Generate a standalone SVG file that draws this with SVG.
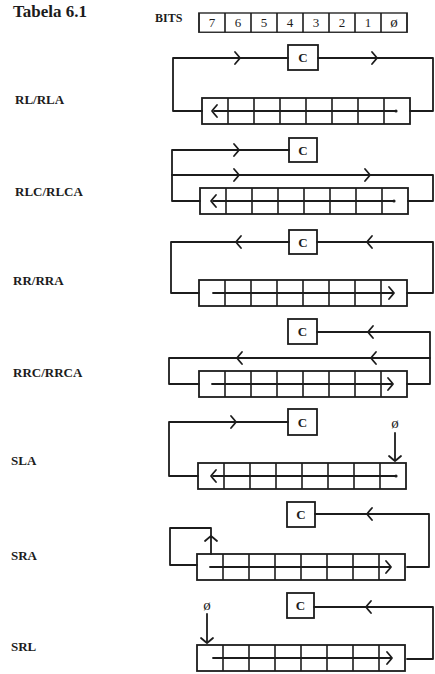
<svg xmlns="http://www.w3.org/2000/svg" xmlns:xlink="http://www.w3.org/1999/xlink" width="435" height="674" viewBox="0 0 435 674">
<style>
.ln{fill:none;stroke:#1c1c1c;stroke-width:1.8;stroke-linejoin:round;stroke-linecap:round}
.bx{fill:none;stroke:#1c1c1c;stroke-width:1.8}
.cell{stroke:#1c1c1c;stroke-width:1.6}
.t{font-family:"Liberation Serif","Times New Roman",serif;fill:#1c1c1c}
.lbl{font-size:13px;font-weight:bold}
.c{font-size:13px;font-weight:bold;text-anchor:middle}
.d{font-size:13px;text-anchor:middle}
.z{font-size:15px;text-anchor:middle}
.dot{fill:#1c1c1c}
</style>
<defs>
<path id="chev" class="ln" d="M-4,-6 Q-0.5,-2 1,0 Q-0.5,2 -4,6"/>
<g id="cells">
<line class="cell" x1="26" y1="0" x2="26" y2="26"/>
<line class="cell" x1="52" y1="0" x2="52" y2="26"/>
<line class="cell" x1="78" y1="0" x2="78" y2="26"/>
<line class="cell" x1="104" y1="0" x2="104" y2="26"/>
<line class="cell" x1="130" y1="0" x2="130" y2="26"/>
<line class="cell" x1="156" y1="0" x2="156" y2="26"/>
<line class="cell" x1="182" y1="0" x2="182" y2="26"/>
<rect class="bx" x="0" y="0" width="208" height="26"/>
</g>
</defs>
<rect width="435" height="674" fill="#fff"/>

<g id="header">
<text class="t" x="13" y="17" font-size="17" font-weight="bold">Tabela 6.1</text>
<text class="t" x="155" y="22" font-size="12" font-weight="bold">BITS</text>
<g transform="translate(199,13) scale(1,0.74)"><use xlink:href="#cells"/></g>
<text class="t d" x="212" y="27">7</text>
<text class="t d" x="238" y="27">6</text>
<text class="t d" x="264" y="27">5</text>
<text class="t d" x="290" y="27">4</text>
<text class="t d" x="316" y="27">3</text>
<text class="t d" x="342" y="27">2</text>
<text class="t d" x="368" y="27">1</text>
<text class="t z" x="394" y="27">ø</text>
</g>

<g id="labels">
<text class="t lbl" x="15" y="104">RL/RLA</text>
<text class="t lbl" x="15" y="196">RLC/RLCA</text>
<text class="t lbl" x="13" y="285">RR/RRA</text>
<text class="t lbl" x="13" y="377">RRC/RRCA</text>
<text class="t lbl" x="11" y="465">SLA</text>
<text class="t lbl" x="11" y="560">SRA</text>
<text class="t lbl" x="11" y="651">SRL</text>
</g>

<!-- Row 1 RL/RLA -->
<g id="rl-carry"><rect class="bx" x="288" y="45" width="30" height="25"/><text class="t c" x="303" y="62">C</text></g>
<g id="rl-reg" transform="translate(202,98)"><use xlink:href="#cells"/></g>
<!-- Row 2 RLC -->
<g id="rlc-carry"><rect class="bx" x="289" y="138" width="28" height="24"/><text class="t c" x="303" y="155">C</text></g>
<g id="rlc-reg" transform="translate(200,188)"><use xlink:href="#cells"/></g>
<!-- Row 3 RR -->
<g id="rr-carry"><rect class="bx" x="289" y="230" width="28" height="24"/><text class="t c" x="303" y="247">C</text></g>
<g id="rr-reg" transform="translate(199,280)"><use xlink:href="#cells"/></g>
<!-- Row 4 RRC -->
<g id="rrc-carry"><rect class="bx" x="288" y="319" width="29" height="25"/><text class="t c" x="302.5" y="336">C</text></g>
<g id="rrc-reg" transform="translate(199,371)"><use xlink:href="#cells"/></g>
<!-- Row 5 SLA -->
<g id="sla-carry"><rect class="bx" x="288" y="409" width="29" height="26"/><text class="t c" x="302.5" y="427">C</text></g>
<g id="sla-reg" transform="translate(198,463)"><use xlink:href="#cells"/></g>
<g id="sla-zero"><text class="t z" x="395" y="428">ø</text></g>
<!-- Row 6 SRA -->
<g id="sra-carry"><rect class="bx" x="287" y="502" width="28" height="25"/><text class="t c" x="301" y="519">C</text></g>
<g id="sra-reg" transform="translate(197,554)"><use xlink:href="#cells"/></g>
<!-- Row 7 SRL -->
<g id="srl-carry"><rect class="bx" x="287" y="593" width="27" height="25"/><text class="t c" x="300.5" y="610">C</text></g>
<g id="srl-reg" transform="translate(197,645)"><use xlink:href="#cells"/></g>
<g id="srl-zero"><text class="t z" x="207" y="610">ø</text></g>

<g id="connectors">
<!-- Row 1 -->
<path class="ln" d="M288,58 H173 V111 H202"/>
<path class="ln" d="M318,58 H433 V111 H410"/>
<use xlink:href="#chev" x="239" y="58"/>
<use xlink:href="#chev" x="376" y="58"/>
<path class="ln" d="M214,111 H396"/>
<use xlink:href="#chev" transform="translate(213,111) rotate(180)"/>
<circle class="dot" cx="396" cy="111" r="1.6"/>
<!-- Row 2 -->
<path class="ln" d="M289,150 H172 V201 H200"/>
<path class="ln" d="M172,175 H433 V201 H408"/>
<use xlink:href="#chev" x="238" y="150"/>
<use xlink:href="#chev" x="238" y="175"/>
<use xlink:href="#chev" x="369" y="175"/>
<path class="ln" d="M213,201 H394"/>
<use xlink:href="#chev" transform="translate(212,201) rotate(180)"/>
<circle class="dot" cx="394" cy="201" r="1.6"/>
<!-- Row 3 -->
<path class="ln" d="M289,242 H171 V293 H199"/>
<path class="ln" d="M317,242 H433 V293 H407"/>
<use xlink:href="#chev" transform="translate(237,242) rotate(180)"/>
<use xlink:href="#chev" transform="translate(368,242) rotate(180)"/>
<path class="ln" d="M213,293 H393"/>
<use xlink:href="#chev" x="393" y="293"/>
<!-- Row 4 -->
<path class="ln" d="M317,332 H430 V384 H407"/>
<path class="ln" d="M430,358 H169 V384 H199"/>
<use xlink:href="#chev" transform="translate(369,332) rotate(180)"/>
<use xlink:href="#chev" transform="translate(238,358) rotate(180)"/>
<use xlink:href="#chev" transform="translate(372,358) rotate(180)"/>
<path class="ln" d="M212,384 H392"/>
<use xlink:href="#chev" x="392" y="384"/>
<!-- Row 5 -->
<path class="ln" d="M288,422 H169 V476 H198"/>
<use xlink:href="#chev" x="235" y="422"/>
<path class="ln" d="M213,476 H396"/>
<use xlink:href="#chev" transform="translate(212,476) rotate(180)"/>
<circle class="dot" cx="396" cy="476" r="1.6"/>
<path class="ln" d="M395,433 V460"/>
<use xlink:href="#chev" transform="translate(395,460) rotate(90)"/>
<!-- Row 6 -->
<path class="ln" d="M315,514 H429 V567 H407"/>
<use xlink:href="#chev" transform="translate(368,514) rotate(180)"/>
<path class="ln" d="M197,565 H170 V528 H211 V554"/>
<use xlink:href="#chev" transform="translate(211,537) rotate(-90)"/>
<path class="ln" d="M210,567 H390"/>
<use xlink:href="#chev" x="390" y="567"/>
<!-- Row 7 -->
<path class="ln" d="M314,607 H433 V659 H407"/>
<use xlink:href="#chev" transform="translate(367,607) rotate(180)"/>
<path class="ln" d="M213,658 H391"/>
<use xlink:href="#chev" x="391" y="658"/>
<path class="ln" d="M207,614 V642"/>
<use xlink:href="#chev" transform="translate(207,642) rotate(90)"/>
</g>
</svg>
